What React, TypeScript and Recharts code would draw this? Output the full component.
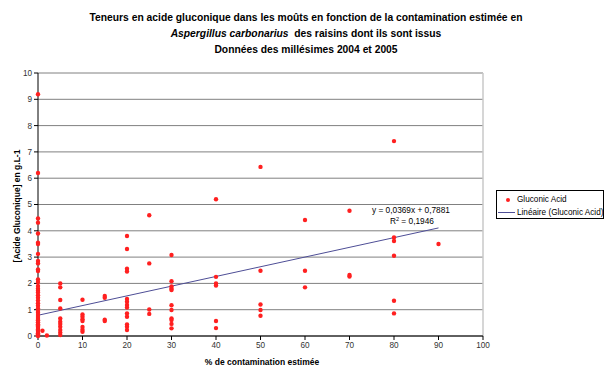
import React from "react";
import {
  ScatterChart,
  Scatter,
  XAxis,
  YAxis,
  CartesianGrid,
  ReferenceLine,
} from "recharts";

// Estimated contamination (%) groups and gluconic acid values (g/L)
const contaminationLevels = [0, 1, 2, 5, 10, 15, 20, 25, 30, 40, 50, 60, 70, 80, 90];

const gluconicAt0 = [
  9.19, 6.2, 4.47, 4.31, 3.9, 3.55, 3.5, 3.12, 2.85, 2.76, 2.53, 2.47, 2.15, 2.05,
  1.9, 1.8, 1.72, 1.65, 1.55, 1.45, 1.35, 1.25, 1.15, 1.05, 0.95, 0.88, 0.8, 0.72,
  0.65, 0.6, 0.52, 0.45, 0.4, 0.35, 0.3, 0.25, 0.2, 0.15, 0.1, 0.06, 0.03, 0.0,
];
const gluconicAt1 = [0.2];
const gluconicAt2 = [0.02];
const gluconicAt5 = [2.0, 1.85, 1.37, 1.05, 0.67, 0.54, 0.46, 0.35, 0.23, 0.13, 0.04];
const gluconicAt10 = [1.38, 0.82, 0.73, 0.64, 0.57, 0.34, 0.24, 0.16];
const gluconicAt15 = [1.52, 1.45, 0.62, 0.57];
const gluconicAt20 = [3.8, 3.31, 2.56, 2.45, 1.41, 1.3, 1.18, 1.08, 0.86, 0.73, 0.44, 0.35, 0.23];
const gluconicAt25 = [4.59, 2.76, 1.01, 0.84];
const gluconicAt30 = [3.08, 2.08, 1.88, 1.8, 1.75, 1.17, 0.99, 0.67, 0.61, 0.46, 0.29];
const gluconicAt40 = [5.2, 2.25, 2.0, 1.92, 0.57, 0.3];
const gluconicAt50 = [6.43, 2.48, 1.2, 0.99, 0.77];
const gluconicAt60 = [4.41, 2.48, 1.85];
const gluconicAt70 = [4.76, 2.32, 2.26];
const gluconicAt80 = [7.41, 3.75, 3.61, 3.05, 1.34, 0.86];
const gluconicAt90 = [3.5];

const gluconicGroups = [
  gluconicAt0, gluconicAt1, gluconicAt2, gluconicAt5, gluconicAt10, gluconicAt15,
  gluconicAt20, gluconicAt25, gluconicAt30, gluconicAt40, gluconicAt50, gluconicAt60,
  gluconicAt70, gluconicAt80, gluconicAt90,
];

// Linear trend (as displayed on chart)
const trendSlope = 0.0369;
const trendIntercept = 0.7881;
const trendRange = [0, 90];

const xTicks = [0, 10, 20, 30, 40, 50, 60, 70, 80, 90, 100];
const yTicks = [0, 1, 2, 3, 4, 5, 6, 7, 8, 9, 10];

const points = contaminationLevels.flatMap((x, i) =>
  gluconicGroups[i].map((y) => ({ x, y }))
);

const FONT = "Arial, 'Liberation Sans', sans-serif";

const Dot = (props: any) => {
  const { cx, cy } = props;
  if (cx == null || cy == null) return <g />;
  return <circle cx={cx} cy={cy} r={2.2} fill="#ff2020" />;
};

export default function App() {
  const seg = trendRange.map((x) => ({ x, y: trendSlope * x + trendIntercept }));
  return (
    <div
      style={{
        position: "absolute",
        left: 0,
        top: 0,
        width: 606,
        height: 367,
        background: "#fff",
        fontFamily: FONT,
      }}
    >
      <div
        style={{
          position: "absolute",
          left: 3,
          top: 10,
          width: 606,
          textAlign: "center",
          fontSize: 10.3,
          fontWeight: "bold",
          lineHeight: "16px",
          color: "#000",
        }}
      >
        <div>Teneurs en acide gluconique dans les moûts en fonction de la contamination estimée en</div>
        <div>
          <i>Aspergillus carbonarius</i>&nbsp; des raisins dont ils sont issus
        </div>
        <div>Données des millésimes 2004 et 2005</div>
      </div>

      <ScatterChart
        width={606}
        height={367}
        margin={{ top: 73, right: 123, bottom: 0, left: 0 }}
        style={{ position: "absolute", left: 0, top: 0 }}
      >
        <CartesianGrid horizontal vertical={false} stroke="#808080" strokeWidth={1} />
        <XAxis
          type="number"
          dataKey="x"
          domain={[0, 100]}
          ticks={xTicks}
          interval={0}
          height={31}
          tickSize={4}
          tickMargin={2}
          stroke="#000"
          tick={{ fontSize: 8.2, fill: "#333", fontFamily: FONT }}
        />
        <YAxis
          type="number"
          dataKey="y"
          domain={[0, 10]}
          ticks={yTicks}
          interval={0}
          width={38}
          tickSize={4}
          tickMargin={2}
          stroke="#000"
          tick={{ fontSize: 8.2, fill: "#333", fontFamily: FONT }}
        />
        <ReferenceLine x={100} stroke="#c8c8c8" strokeWidth={1.5} />
        <ReferenceLine
          segment={seg}
          stroke="#4e4e96"
          strokeWidth={1}
          ifOverflow="visible"
        />
        <Scatter data={points} shape={<Dot />} isAnimationActive={false} />
      </ScatterChart>

      <div
        style={{
          position: "absolute",
          left: 17,
          top: 206,
          transform: "translate(-50%, -50%) rotate(-90deg)",
          whiteSpace: "nowrap",
          fontSize: 8.5,
          fontWeight: "bold",
          color: "#000",
        }}
      >
        [Acide Gluconique] en g.L-1
      </div>

      <div
        style={{
          position: "absolute",
          left: 262,
          top: 362,
          transform: "translate(-50%, -50%)",
          whiteSpace: "nowrap",
          fontSize: 8.5,
          fontWeight: "bold",
          color: "#000",
        }}
      >
        % de contamination estimée
      </div>

      <div
        style={{
          position: "absolute",
          left: 372,
          top: 205,
          whiteSpace: "nowrap",
          fontSize: 8.3,
          color: "#000",
          lineHeight: "11px",
        }}
      >
        <div>y = 0,0369x + 0,7881</div>
        <div style={{ paddingLeft: 18 }}>
          R<sup style={{ fontSize: 5.5, verticalAlign: "top", lineHeight: "6px" }}>2</sup> = 0,1946
        </div>
      </div>

      <div
        style={{
          position: "absolute",
          left: 496,
          top: 190,
          width: 108,
          height: 29,
          border: "1px solid #000",
          boxSizing: "border-box",
          fontSize: 8.2,
          color: "#000",
          background: "#fff",
        }}
      >
        <div style={{ position: "absolute", left: 9, top: 7, width: 4, height: 4, borderRadius: 2, background: "#ff2020" }} />
        <div style={{ position: "absolute", left: 20, top: 3.5, whiteSpace: "nowrap", lineHeight: "10px" }}>Gluconic Acid</div>
        <div style={{ position: "absolute", left: 1, top: 21, width: 17, height: 1, background: "#4e4e96" }} />
        <div style={{ position: "absolute", left: 20, top: 16.5, whiteSpace: "nowrap", lineHeight: "10px" }}>Linéaire (Gluconic Acid)</div>
      </div>
    </div>
  );
}
